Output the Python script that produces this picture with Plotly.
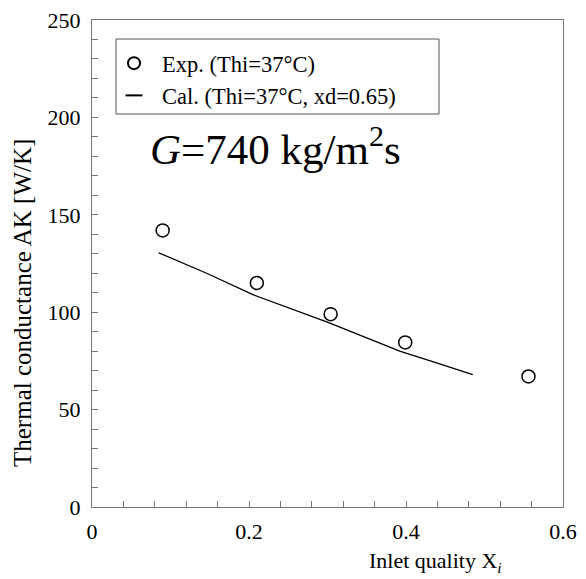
import plotly.graph_objects as go

# measured points (Thi=37C)
x_exp = [0.09, 0.21, 0.304, 0.399, 0.556]
y_exp = [142, 115, 99, 84.5, 67]

# calculated curve (xd=0.65)
x_cal = [0.085, 0.146, 0.205, 0.299, 0.346, 0.392, 0.439, 0.485]
y_cal = [130.5, 120, 109, 95, 87.5, 80, 74, 68]

x_ticks = [0, 0.2, 0.4, 0.6]
x_ticklabels = ["0", "0.2", "0.4", "0.6"]
y_ticks = [0, 50, 100, 150, 200, 250]

FONT = "Liberation Serif"

# page body has an 8px margin, so the figure is drawn 8px smaller
W, H = 578, 571
L, T = 84, 12          # plot area left / top in figure px
PW, PH = 471, 487      # plot area size


def px(xp):
    return (xp - 8 - L) / PW


def py(yp):
    return (T + PH - (yp - 8)) / PH


fig = go.Figure()

fig.add_trace(go.Scatter(
    x=x_cal, y=y_cal, mode="lines",
    line=dict(color="black", width=1.3),
    showlegend=False,
))
fig.add_trace(go.Scatter(
    x=x_exp, y=y_exp, mode="markers",
    marker=dict(symbol="circle-open", size=13, color="black", line=dict(width=1.5)),
    name="Exp. (Thi=37°C)",
))
# legend-only entry so the line sample is a short dash like the original
fig.add_trace(go.Scatter(
    x=[None], y=[None], mode="markers",
    marker=dict(symbol="line-ew-open", size=12, color="black", line=dict(width=2, color="black")),
    name="Cal. (Thi=37°C, xd=0.65)",
))

axis_common = dict(
    showline=True, linecolor="#777777", linewidth=1, mirror=True,
    showgrid=False, zeroline=False, automargin=False,
    ticklabeloverflow="allow",
    ticks="inside", ticklen=6, tickcolor="#777777",
    tickfont=dict(size=22, color="black", family=FONT),
)

fig.update_xaxes(
    range=[0, 0.6], tickvals=x_ticks, ticktext=x_ticklabels,
    minor=dict(dtick=0.04, ticks="inside", ticklen=6, tickcolor="#777777"),
    ticklabelstandoff=5,
    **axis_common,
)
fig.update_yaxes(
    range=[0, 250], tickvals=y_ticks,
    minor=dict(dtick=10, ticks="inside", ticklen=6, tickcolor="#777777"),
    ticklabelstandoff=6,
    **axis_common,
)

fig.update_layout(
    width=W, height=H,
    margin=dict(l=L, r=W - L - PW, t=T, b=H - T - PH, autoexpand=False),
    paper_bgcolor="white", plot_bgcolor="white",
    font=dict(family=FONT, color="black", size=22),
    legend=dict(
        x=px(106), y=py(42), xanchor="left", yanchor="top",
        bgcolor="rgba(0,0,0,0)", borderwidth=0,
        font=dict(size=22.5, family=FONT, color="black"),
        tracegroupgap=0, itemsizing="constant", itemwidth=46,
    ),
    shapes=[dict(
        type="rect", xref="paper", yref="paper",
        x0=px(116), x1=px(439), y0=py(114), y1=py(39),
        line=dict(color="#555555", width=1),
    )],
    annotations=[
        dict(text="<i>G</i>=740 kg/m<sup>2</sup>s", xref="paper", yref="paper",
             x=px(148), y=py(146), xanchor="left", yanchor="middle",
             showarrow=False, font=dict(size=43, family=FONT, color="black")),
        dict(text="Thermal conductance AK [W/K]", xref="paper", yref="paper",
             x=px(22), y=py(303), xanchor="center", yanchor="middle",
             textangle=-90, showarrow=False, font=dict(size=25, family=FONT, color="black")),
        dict(text="Inlet quality X<sub><i>i</i></sub>", xref="paper", yref="paper",
             x=px(435), y=py(562), xanchor="center", yanchor="middle",
             showarrow=False, font=dict(size=22, family=FONT, color="black")),
    ],
)

fig.write_html("out.html")
